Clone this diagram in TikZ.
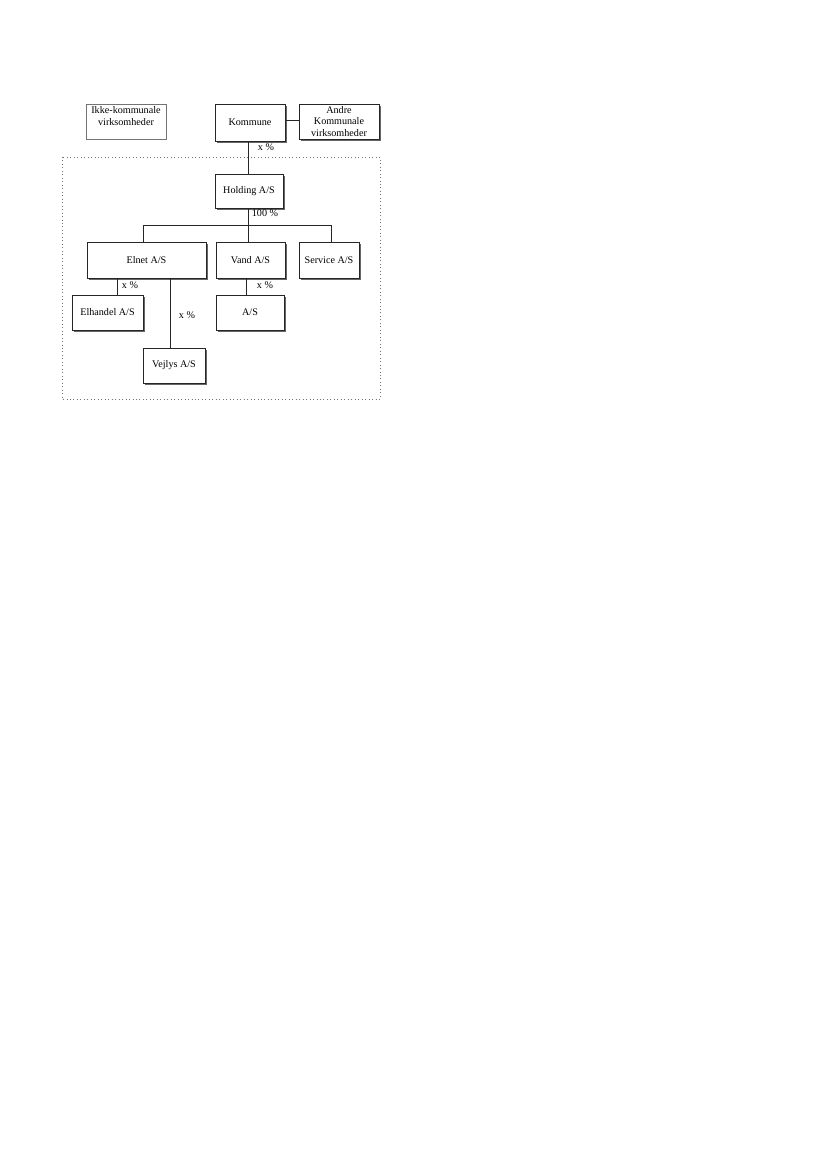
\documentclass[tikz,border=0pt]{standalone}
\usepackage{fontspec}
\setmainfont{Liberation Serif}
\usetikzlibrary{shadows}
\begin{document}
\begin{tikzpicture}[x=0.72pt,y=-0.72pt,
  every node/.style={font=\fontsize{7.3}{8.6}\selectfont},
  box/.style={draw=black!85, line width=0.6pt, fill=white, align=center, inner sep=1pt,
    drop shadow={shadow xshift=1.1pt, shadow yshift=-1.1pt, fill=black!60, opacity=1}},
  plainbox/.style={draw=black!55, line width=0.5pt, fill=white, align=center, inner sep=1pt},
  conn/.style={draw=black!85, line width=0.6pt},
  lbl/.style={inner sep=0pt}]
\useasboundingbox (0,0) rectangle (827,1169);
\fill[white] (0,0) rectangle (827,1169);
% dotted group frame
\draw[black!55, dotted, line width=0.5pt] (62,157) rectangle (380,399);
% boxes
\node[plainbox, minimum width=80*0.72pt, minimum height=35*0.72pt] (ikke) at (126,121.5) {Ikke-kommunale\\virksomheder\\\mbox{}};
\node[box, minimum width=70*0.72pt, minimum height=37*0.72pt] (kommune) at (250,122.5) {Kommune};
\node[box, minimum width=80*0.72pt, minimum height=35*0.72pt] (andre) at (339,121.5) {Andre\\Kommunale\\virksomheder};
\node[box, minimum width=68*0.72pt, minimum height=34*0.72pt] (holding) at (249,191) {Holding A/S};
\node[box, minimum width=119*0.72pt, minimum height=36*0.72pt] (elnet) at (146.5,260) {Elnet A/S};
\node[box, minimum width=69*0.72pt, minimum height=36*0.72pt] (vand) at (250.5,260) {Vand A/S};
\node[box, minimum width=60*0.72pt, minimum height=36*0.72pt] (service) at (329,260) {Service A/S};
\node[box, minimum width=71*0.72pt, minimum height=35*0.72pt] (elhandel) at (107.5,312.5) {Elhandel A/S};
\node[box, minimum width=68*0.72pt, minimum height=35*0.72pt] (as) at (250,312.5) {A/S};
\node[box, minimum width=62*0.72pt, minimum height=35*0.72pt] (vejlys) at (174,365.5) {Vejlys A/S};
% helper coordinates
\coordinate (barL) at (143,225);
\coordinate (barR) at (331,225);
\coordinate (k) at (248,0);
\coordinate (e1) at (117,0);
\coordinate (e2) at (170,0);
\coordinate (v1) at (246,0);
% connectors
\draw[conn] (kommune.east |- 0,120) -- (andre.west |- 0,120);
\draw[conn] (kommune.south -| k) -- (holding.north -| k);
\draw[conn] (holding.south -| k) -- (vand.north -| k);
\draw[conn] (barL) -- (barR);
\draw[conn] (barL) -- (barL |- elnet.north);
\draw[conn] (barR) -- (barR |- service.north);
\draw[conn] (elnet.south -| e1) -- (elhandel.north -| e1);
\draw[conn] (elnet.south -| e2) -- (vejlys.north -| e2);
\draw[conn] (vand.south -| v1) -- (as.north -| v1);
% labels
\node[lbl] (l1) at (266,147) {x \%};
\node[lbl] (l2) at (265,213) {100 \%};
\node[lbl] (l3) at (130,285) {x \%};
\node[lbl] (l4) at (265,285) {x \%};
\node[lbl] (l5) at (187,315) {x \%};
\end{tikzpicture}
\end{document}
